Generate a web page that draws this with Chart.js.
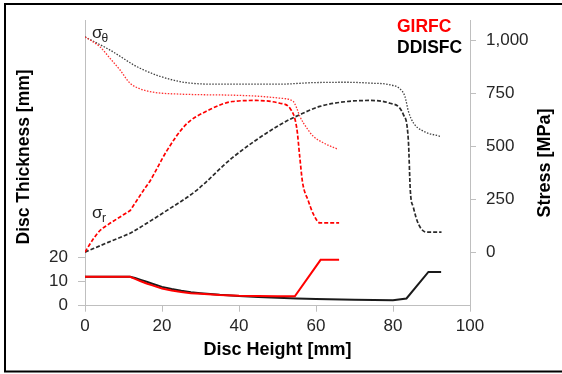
<!DOCTYPE html>
<html><head><meta charset="utf-8">
<script src="https://cdn.jsdelivr.net/npm/chart.js@4/dist/chart.umd.min.js"></script>
<style>html,body{margin:0;padding:0;background:#fff;}#wrap{width:562px;height:374px;position:relative;}</style>
</head><body><div id="wrap"><canvas id="c" width="562" height="374"></canvas></div>
<script>
// ---- data ----
const xTicks = [0, 20, 40, 60, 80, 100];
const thicknessTicks = [0, 10, 20];
const stressTicks = [0, 250, 500, 750, 1000];

const thickGirfcX = [0, 11.7, 13, 14.5, 16, 17.5, 20, 22.5, 25, 27.5, 30, 35, 40, 45, 50, 54.5, 61.2, 66];
const thickGirfcY = [12, 12, 11.1, 10.1, 9.2, 8.4, 7.1, 6.3, 5.7, 5.2, 4.9, 4.4, 4.1, 4.0, 3.9, 3.9, 19, 19];
const thickDdisfcX = [0, 11.7, 13, 14.5, 16, 17.5, 20, 22.5, 25, 27.5, 30, 35, 40, 45, 50, 55, 60, 70, 80, 83.5, 89.2, 92.5];
const thickDdisfcY = [12, 12, 11.5, 10.7, 9.9, 9.1, 7.8, 6.9, 6.2, 5.6, 5.2, 4.5, 4.0, 3.6, 3.3, 3.0, 2.8, 2.5, 2.3, 3.0, 14.0, 14.0];

const hoopGirfcX = [0, 3.9, 6.5, 9.1, 11.7, 14.3, 17.7, 24.7, 31, 38.3, 45, 50.5, 54.1, 55.0, 55.8, 57.6, 59.3, 61.9, 65.8];
const hoopGirfcY = [1016, 969, 915, 860, 797, 771, 755, 746, 743, 741, 736, 727, 711, 680, 641, 586, 547, 516, 485];
const hoopDdisfcX = [0, 6.5, 14.3, 24.7, 35, 50.6, 59, 68, 74, 79.2, 81.8, 83.1, 84.0, 85.3, 87.9, 92.2];
const hoopDdisfcY = [1016, 954, 868, 805, 793, 793, 800, 802, 798, 790, 771, 735, 665, 610, 571, 547];

const radGirfcX = [0, 2, 3.9, 6, 9, 11.2, 11.7, 12.3, 15.1, 16.9, 21.2, 26.2, 31.4, 38.3, 44.4, 50.6, 53.2, 55.0, 55.8, 56.5, 58.0, 59.3, 61.0, 66];
const radGirfcY = [0, 58, 102, 130, 165, 190, 196, 212, 289, 336, 477, 602, 664, 711, 716, 703, 680, 586, 446, 330, 242, 180, 138, 138];
const radDdisfcX = [0, 6, 11.2, 11.7, 12.3, 21.2, 28.8, 38.3, 50.5, 55.8, 61, 68, 74, 79.2, 82.7, 84.0, 84.5, 85.3, 86.6, 88.7, 92.6];
const radDdisfcY = [0, 46, 85, 89, 95, 196, 289, 446, 600, 649, 688, 711, 716, 703, 649, 524, 290, 211, 133, 94, 94];

const seriesNames = ['GIRFC', 'DDISFC'];
const xTitle = 'Disc Height [mm]';
const yTitle = 'Disc Thickness [mm]';
const y2Title = 'Stress [MPa]';

// ---- helpers ----
const pts = (xs, ys) => xs.map((x, i) => ({x, y: ys[i]}));
const RED = '#ff0000', BLACK = '#1a1a1a';
const AXIS = '#bfbfbf';
const FONT = '"Liberation Sans", Arial, sans-serif';

const datasets = [
  {label: 'GIRFC thickness', data: pts(thickGirfcX, thickGirfcY), yAxisID: 'y', borderColor: RED, borderWidth: 2, tension: 0},
  {label: 'DDISFC thickness', data: pts(thickDdisfcX, thickDdisfcY), yAxisID: 'y', borderColor: BLACK, borderWidth: 2, tension: 0},
  {label: 'GIRFC σθ', data: pts(hoopGirfcX, hoopGirfcY), yAxisID: 'y2', borderColor: '#ff3030', borderWidth: 1.3, borderDash: [1.5, 1.5], cubicInterpolationMode: 'monotone'},
  {label: 'DDISFC σθ', data: pts(hoopDdisfcX, hoopDdisfcY), yAxisID: 'y2', borderColor: '#404040', borderWidth: 1.3, borderDash: [1.5, 1.5], cubicInterpolationMode: 'monotone'},
  {label: 'GIRFC σr', data: pts(radGirfcX, radGirfcY), yAxisID: 'y2', borderColor: RED, borderWidth: 1.7, borderDash: [4, 2], cubicInterpolationMode: 'monotone'},
  {label: 'DDISFC σr', data: pts(radDdisfcX, radDdisfcY), yAxisID: 'y2', borderColor: '#2a2a2a', borderWidth: 1.7, borderDash: [4, 2], cubicInterpolationMode: 'monotone'}
];

const annotate = {
  id: 'annotate',
  afterDraw(chart) {
    const ctx = chart.ctx;
    const sx = chart.scales.x, s2 = chart.scales.y2, ca = chart.chartArea;
    // vertical axis titles
    ctx.save();
    ctx.fillStyle = '#000';
    ctx.textAlign = 'center'; ctx.textBaseline = 'middle';
    ctx.font = 'bold 17.5px ' + FONT;
    ctx.translate(24, (ca.top + ca.bottom) / 2 - 6);
    ctx.rotate(-Math.PI / 2);
    ctx.fillText(yTitle, 0, 0);
    ctx.restore();
    ctx.save();
    ctx.fillStyle = '#000';
    ctx.textAlign = 'center'; ctx.textBaseline = 'middle';
    ctx.font = 'bold 18px ' + FONT;
    ctx.translate(545.5, (ca.top + ca.bottom) / 2);
    ctx.rotate(-Math.PI / 2);
    ctx.fillText(y2Title, 0, 0);
    ctx.restore();
    // series labels
    ctx.save();
    ctx.textAlign = 'left'; ctx.textBaseline = 'alphabetic';
    ctx.font = 'bold 17.5px ' + FONT;
    ctx.fillStyle = RED;
    ctx.fillText(seriesNames[0], 397, 31.7);
    ctx.fillStyle = '#000';
    ctx.fillText(seriesNames[1], 397, 53.3);
    // sigma labels
    ctx.fillStyle = '#222';
    const lx = sx.getPixelForValue(1.8);
    ctx.font = '17px ' + FONT;
    ctx.fillText('σ', lx, s2.getPixelForValue(1010));
    ctx.fillText('σ', lx, s2.getPixelForValue(160));
    ctx.font = '12px ' + FONT;
    ctx.fillText('θ', lx + 9.5, s2.getPixelForValue(990));
    ctx.fillText('r', lx + 10, s2.getPixelForValue(140));
    ctx.restore();
    // outer frame
    ctx.save();
    ctx.strokeStyle = '#000';
    ctx.lineWidth = 2;
    ctx.strokeRect(5, 4, 600, 367.5);
    ctx.restore();
  }
};

new Chart(document.getElementById('c'), {
  type: 'line',
  data: {datasets},
  plugins: [annotate],
  options: {
    responsive: false,
    devicePixelRatio: 1,
    animation: false,
    layout: {padding: {top: 18, left: 0, right: 0, bottom: 0}},
    elements: {point: {radius: 0}, line: {fill: false}},
    plugins: {legend: {display: false}, tooltip: {enabled: false}},
    scales: {
      x: {
        type: 'linear', min: 0, max: 100,
        afterBuildTicks: s => { s.ticks = xTicks.map(v => ({value: v})); },
        afterFit: s => { s.height = 68.3; },
        grid: {drawOnChartArea: false, color: AXIS, tickLength: 6},
        border: {color: AXIS},
        ticks: {color: '#262626', padding: 4, font: {family: FONT, size: 17}},
        title: {display: true, text: xTitle, color: '#000', font: {family: FONT, size: 18, weight: 'bold'}, padding: {top: 0, bottom: 13}}
      },
      y: {
        type: 'linear', position: 'left', min: 0, max: 118.2,
        afterBuildTicks: s => { s.ticks = thicknessTicks.map(v => ({value: v})); },
        afterFit: s => { s.width = 85; },
        grid: {drawOnChartArea: false, color: AXIS, tickLength: 7},
        border: {color: AXIS},
        ticks: {color: '#262626', padding: 10, font: {family: FONT, size: 17}}
      },
      y2: {
        type: 'linear', position: 'right', min: -253, max: 1095,
        afterBuildTicks: s => { s.ticks = stressTicks.map(v => ({value: v})); },
        afterFit: s => { s.width = 92; },
        grid: {drawOnChartArea: false, color: AXIS, tickLength: 6},
        border: {color: AXIS},
        ticks: {color: '#262626', padding: 10, font: {family: FONT, size: 17}}
      }
    }
  }
});
</script></body></html>
